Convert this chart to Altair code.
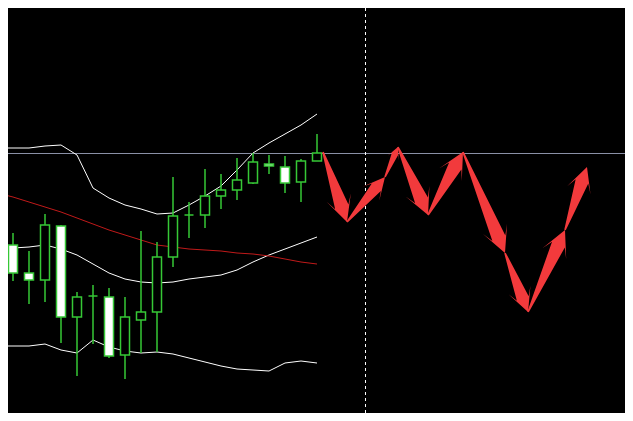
import math
import altair as alt
import pandas as pd

# ---- data (price units) ----
bar_index = list(range(-1, 20))
open_ = [142, 176, 148, 141, 195, 104, 125, 124, 66, 101, 109, 164, 206, 206, 225, 231, 238, 257, 254, 239, 260]
close = [177, 148, 141, 196, 104, 124, 125, 65, 104, 109, 164, 205, 206, 225, 231, 241, 259, 255, 238, 260, 268]
high = [181, 188, 170, 207, 196, 129, 136, 133, 124, 190, 179, 244, 219, 252, 247, 263, 268, 266, 265, 262, 287]
low = [139, 140, 117, 119, 78, 45, 77, 63, 42, 68, 69, 154, 183, 193, 212, 221, 237, 247, 228, 219, 260]

bb_upper = [273, 273, 273, 275, 276, 266, 233, 223, 216, 212, 207, 208, 216, 225, 235, 251, 268, 278, 287, 296, 307]
bb_mid = [173, 173, 174, 176, 172, 166, 157, 148, 142, 139, 138, 139, 142, 144, 146, 151, 159, 166, 172, 178, 184]
bb_lower = [75, 75, 75, 77, 71, 68, 81, 74, 70, 68, 69, 67, 63, 59, 55, 52, 51, 50, 58, 60, 58]
ma_red = [228, 224, 219, 214, 209, 203, 197, 191, 186, 181, 176, 174, 172, 171, 170, 168, 167, 165, 162, 159, 157]

marker_time = 22
zz_time = [19.375, 20.875, 23.25, 24.06, 25.94, 28.125, 30.75, 32.19, 34.5, 35.875]
zz_price = [269, 199, 244, 274, 206, 269, 168, 109, 191, 254]

# ---- styling ----
GREEN = "#36c836"
RED_ARROW = "#f23a3c"
RED_MA = "#c01a1a"
BID = "#8a90a6"
PX_X = 16.0  # pixels per bar
PX_Y = 1.0   # pixels per price unit

W, H = 617, 405
X = alt.Scale(domain=[-0.3125, 38.25], nice=False, zero=False)
Y = alt.Scale(domain=[8, 413], nice=False, zero=False)

candles = pd.DataFrame({"k": bar_index, "open": open_, "close": close, "high": high, "low": low})
candles["x1"] = candles["k"] - 4.5 / PX_X
candles["x2"] = candles["k"] + 4.5 / PX_X
candles["fill"] = ["white" if c < o else "black" for o, c in zip(open_, close)]

lines = pd.DataFrame({"k": bar_index, "up": bb_upper, "mid": bb_mid, "lo": bb_lower, "ma": ma_red})


def arrow_path(L):
    f = min(1.0, L / 70.0)
    u = L / 2.0
    wn, wb, hn, hb, wt = 7.0 * f, 13.0 * f, 16.0 * f, 26.0 * f, 0.8
    pts = [(0, -u), (wb, -u + hb), (wn, -u + hn), (wt, u), (-wt, u), (-wn, -u + hn), (-wb, -u + hb)]
    return "M" + "L".join(f"{x / u:.4f},{y / u:.4f}" for x, y in pts) + "Z"


rows = []
for i in range(len(zz_time) - 1):
    t1, p1, t2, p2 = zz_time[i], zz_price[i], zz_time[i + 1], zz_price[i + 1]
    dx = (t2 - t1) * PX_X
    dy = -(p2 - p1) * PX_Y
    L = math.hypot(dx, dy)
    ang = math.degrees(math.atan2(dx, -dy)) % 360
    rows.append({"cx": (t1 + t2) / 2, "cy": (p1 + p2) / 2, "path": arrow_path(L), "sz": L * L, "ang": ang})
arrows = pd.DataFrame(rows)

base_lines = alt.Chart(lines)


def line_layer(field, color):
    return base_lines.mark_line(color=color, strokeWidth=1, clip=True).encode(
        x=alt.X("k:Q", scale=X, axis=None),
        y=alt.Y(f"{field}:Q", scale=Y, axis=None),
    )


bid_line = alt.Chart(pd.DataFrame({"p": [close[-1]]})).mark_rule(
    color=BID, strokeWidth=1, yOffset=0.5
).encode(y=alt.Y("p:Q", scale=Y, axis=None))
vline = alt.Chart(pd.DataFrame({"t": [marker_time]})).mark_rule(
    color="white", strokeWidth=1, strokeDash=[3, 3], xOffset=0.5
).encode(x=alt.X("t:Q", scale=X, axis=None))

wicks = alt.Chart(candles).mark_rule(color=GREEN, strokeWidth=1.5, clip=True).encode(
    x=alt.X("k:Q", scale=X, axis=None),
    y=alt.Y("high:Q", scale=Y, axis=None),
    y2="low:Q",
)
bodies = alt.Chart(candles).mark_rect(
    stroke=GREEN, strokeWidth=1.5, clip=True
).encode(
    x=alt.X("x1:Q", scale=X, axis=None),
    x2="x2:Q",
    y=alt.Y("open:Q", scale=Y, axis=None),
    y2="close:Q",
    fill=alt.Fill("fill:N", scale=None),
)
arrow_layer = alt.Chart(arrows).mark_point(filled=True, opacity=1, strokeWidth=0).encode(
    x=alt.X("cx:Q", scale=X, axis=None),
    y=alt.Y("cy:Q", scale=Y, axis=None),
    shape=alt.Shape("path:N", scale=None),
    size=alt.Size("sz:Q", scale=None),
    angle=alt.Angle("ang:Q", scale=None),
    color=alt.value(RED_ARROW),
)

chart = alt.layer(
    bid_line,
    vline,
    line_layer("up", "white"),
    line_layer("mid", "white"),
    line_layer("lo", "white"),
    line_layer("ma", RED_MA),
    wicks,
    bodies,
    arrow_layer,
).properties(width=W, height=H, padding=0, autosize="none", background="black").configure_view(
    stroke=None
)

chart.save("out.html", embed_options={"renderer": "svg", "actions": False})
